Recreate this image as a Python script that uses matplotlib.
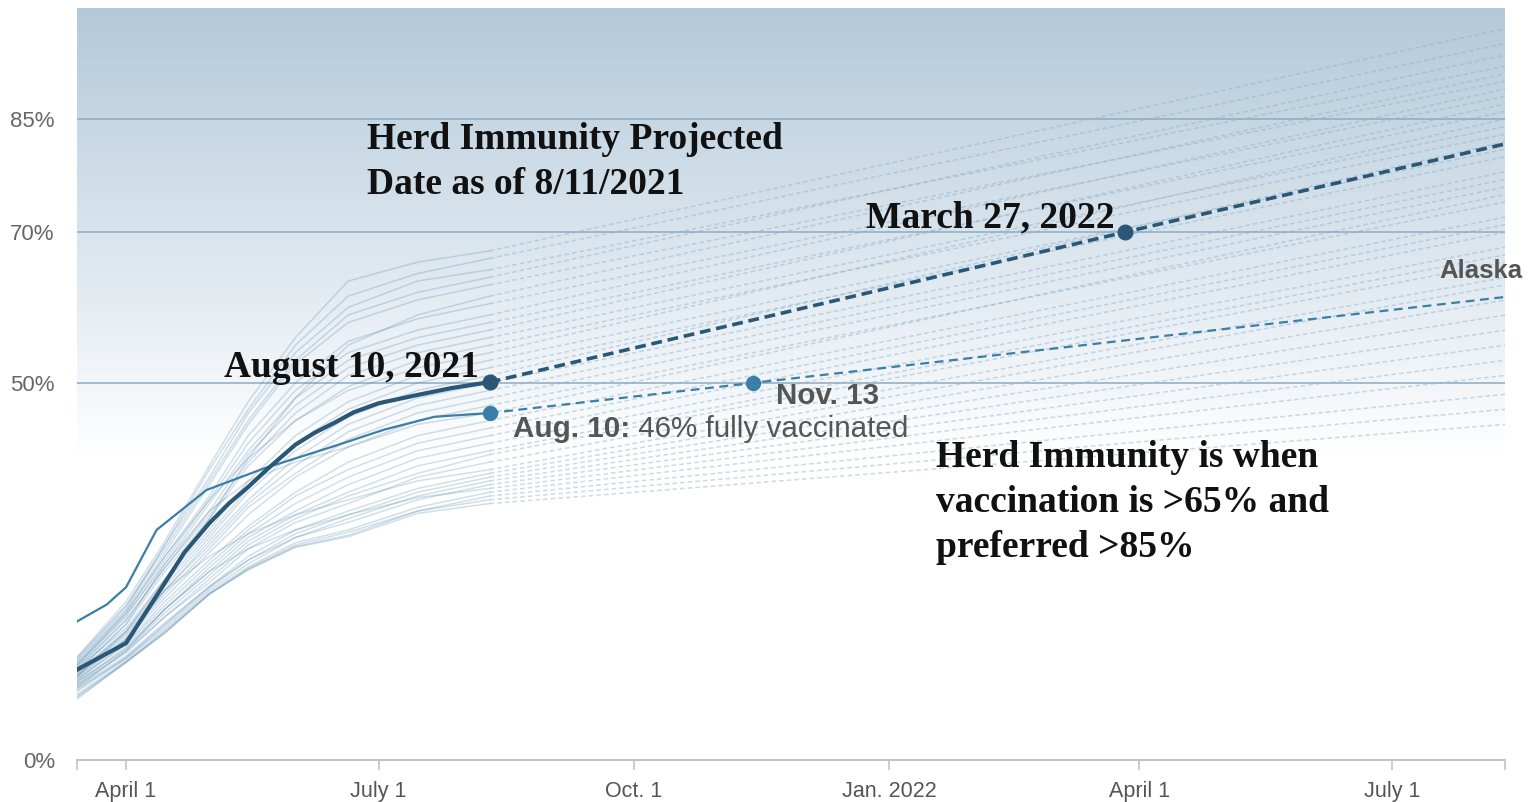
import datetime as dt
import numpy as np
import matplotlib
matplotlib.use('Agg')
import matplotlib.pyplot as plt
import matplotlib.dates as mdates
from matplotlib.colors import LinearSegmentedColormap
from matplotlib.ticker import FixedLocator

D = dt.datetime

# ---- data ----
X_START = D(2021, 3, 14, 8)
X_END = D(2022, 8, 10, 17)
PROJ_END = D(2022, 8, 11)

STATE_DATES = [D(2021, 3, 14), D(2021, 4, 1), D(2021, 4, 15), D(2021, 5, 1), D(2021, 5, 15),
               D(2021, 6, 1), D(2021, 6, 20), D(2021, 7, 15), D(2021, 8, 10)]
STATE_VALUES = [
    [13.5, 21, 29, 39, 47.5, 56, 63.5, 66, 67.5],
    [13.4, 20.5, 28.5, 38.5, 46.5, 55, 61.5, 64.5, 66.5],
    [13, 20, 28.5, 37.5, 46, 54, 60, 63.5, 65],
    [13.2, 20.4, 28, 37, 45, 53, 59, 62, 64],
    [12.8, 19.8, 27.5, 36.5, 44.5, 52.5, 58, 61, 63],
    [11, 17, 24, 32, 40, 48, 55, 59, 61.5],
    [12.6, 19.5, 27, 35, 43, 50, 55.5, 58.5, 60.5],
    [12.3, 19, 26.5, 34.5, 42, 49, 54, 57, 59],
    [12.4, 19.2, 26, 34, 41, 48, 53, 56, 58],
    [12, 18.5, 25.5, 33, 40.5, 47, 52, 55, 57],
    [12.1, 18.6, 25.5, 32.5, 39.5, 46, 51, 54, 56],
    [11.8, 18, 25, 32, 39, 45, 49.5, 53, 55],
    [12.5, 19.5, 27, 34.5, 40, 45, 49, 52, 54],
    [11.9, 17.5, 24, 30.5, 37, 43, 47.5, 51, 53],
    [11.3, 17.2, 23.5, 30, 36, 42, 46.5, 50, 52],
    [11.5, 17, 23, 29.5, 35.5, 41, 45.5, 49, 51],
    [11, 16.8, 22.5, 29, 34.5, 40, 44.5, 48, 50],
    [11.2, 16.5, 22.5, 28.5, 34, 39, 43.5, 47, 49],
    [10.8, 16.2, 22, 28, 33.5, 38, 42.5, 46, 48],
    [11, 16, 21.5, 27.5, 32.5, 37.5, 41.5, 45, 47],
    [11.5, 18, 26, 33, 37, 39.5, 41.5, 44.5, 46],
    [10.4, 15.5, 21, 26.5, 31, 35.5, 39.5, 43, 45],
    [10.7, 15.3, 20.5, 26, 30.5, 35, 38.5, 42, 44],
    [10.2, 15, 20, 25.5, 30, 34, 37.5, 41, 43],
    [10, 14.8, 20, 25, 29.5, 33, 36.5, 40, 42],
    [10.3, 14.6, 19.5, 24.5, 29, 32.5, 35.5, 39, 41],
    [9.8, 14.4, 19, 24, 28.5, 32, 35, 38, 40.5],
    [9.9, 14.2, 19, 23.5, 28, 31.5, 34, 37.5, 39.5],
    [10.5, 16, 22.5, 27, 30, 32.5, 34.5, 37, 38.5],
    [9.6, 13.8, 18.2, 23, 27, 30.5, 33, 36, 38],
    [9.2, 13.6, 18, 23, 26.5, 30, 32.5, 35.5, 37.5],
    [9.4, 13.5, 17.8, 22.8, 26.5, 29.5, 32, 35, 37],
    [9, 13.4, 17.5, 22.5, 26, 29.5, 31.5, 34.5, 36.5],
    [9.5, 14.5, 20, 25, 28, 30.5, 32.5, 34.8, 36],
    [8.6, 13.1, 17.2, 22.2, 25.6, 28.8, 30.5, 33.5, 35.5],
    [8.4, 13, 17, 22, 25.4, 28.5, 30.2, 33, 35],
    [8.2, 12.9, 16.9, 22, 25.3, 28.3, 29.8, 33, 34.5],
    [8, 13, 16.8, 22, 25.2, 28.2, 29.6, 32.7, 34],
]
STATE_END = [97, 95, 92, 93.5, 90, 91, 88, 89, 86, 87, 84, 83, 85, 81, 80, 82, 78, 77, 76,
             74, 75, 72, 71, 70, 68, 67, 66, 64, 63, 61, 59, 57, 55, 53, 51, 48.5, 46.5, 44.5]

US_DATES = [D(2021, 3, 14), D(2021, 3, 22), D(2021, 4, 1), D(2021, 4, 8), D(2021, 4, 15),
            D(2021, 4, 22), D(2021, 5, 1), D(2021, 5, 8), D(2021, 5, 15), D(2021, 5, 22),
            D(2021, 6, 1), D(2021, 6, 8), D(2021, 6, 15), D(2021, 6, 22), D(2021, 7, 1),
            D(2021, 7, 15), D(2021, 7, 27), D(2021, 8, 10)]
US_VALUES = [11.9, 13.5, 15.5, 19.5, 23.5, 27.5, 31.4, 34.0, 36.2, 38.6,
             41.8, 43.4, 44.7, 46.1, 47.3, 48.4, 49.3, 50.1]
US_PROJ_DATES = [D(2021, 8, 10), D(2022, 3, 27), PROJ_END]
US_PROJ_VALUES = [50.1, 70.0, 81.7]

AK_DATES = [D(2021, 3, 14), D(2021, 3, 25), D(2021, 4, 1), D(2021, 4, 12), D(2021, 4, 30),
            D(2021, 5, 21), D(2021, 6, 14), D(2021, 7, 3), D(2021, 7, 21), D(2021, 8, 10)]
AK_VALUES = [18.3, 20.6, 22.9, 30.5, 35.8, 38.7, 41.5, 43.8, 45.5, 46.0]
AK_PROJ_DATES = [D(2021, 8, 10), D(2021, 11, 13), PROJ_END]
AK_PROJ_VALUES = [46.0, 50.0, 61.4]

Y_TICKS = [0, 50, 70, 85]
Y_LABELS = ['0%', '50%', '70%', '85%']
X_TICKS = [D(2021, 4, 1), D(2021, 7, 1), D(2021, 10, 1), D(2022, 1, 1), D(2022, 4, 1), D(2022, 7, 1)]
X_LABELS = ['April 1', 'July 1', 'Oct. 1', 'Jan. 2022', 'April 1', 'July 1']

# ---- colors / fonts ----
US_COLOR = '#2b5776'
AK_COLOR = '#3b7ea8'
STATE_COLOR = '#3f7aa6'
STATE_DASH = '#8aaecb'
GRID_COLOR = '#8eabc3'
GRAY = '#555555'
SERIF = 'Liberation Serif'
SANS = 'Liberation Sans'

fig = plt.figure(figsize=(15.36, 8.02), dpi=100)
ax = fig.add_axes([77 / 1536, 1 - 760 / 802, 1428 / 1536, 752 / 802])
ax.set_xlim(X_START, X_END)
ax.set_ylim(0, 99.7)

# background gradient
cmap = LinearSegmentedColormap.from_list('bg', ['#ffffff', '#b3c9da'])
grad = np.linspace(0, 1, 256).reshape(-1, 1)
ax.imshow(grad, extent=[mdates.date2num(X_START), mdates.date2num(X_END), 40, 99.7],
          origin='lower', aspect='auto', cmap=cmap, zorder=0)

# state lines
for vals, end in zip(STATE_VALUES, STATE_END):
    ax.plot(STATE_DATES, vals, color=STATE_COLOR, alpha=0.24, lw=1.1, zorder=2)
    ax.plot([STATE_DATES[-1], PROJ_END], [vals[-1], end], color=STATE_DASH,
            alpha=0.45, lw=1.1, dashes=(3, 2), zorder=2)

# Alaska
ax.plot(AK_DATES, AK_VALUES, color=AK_COLOR, lw=1.6, zorder=4)
ax.plot(AK_PROJ_DATES, AK_PROJ_VALUES, color=AK_COLOR, lw=1.6, dashes=(4, 2.5), zorder=4)
ax.plot(AK_PROJ_DATES[:2], AK_PROJ_VALUES[:2], 'o', color=AK_COLOR, ms=10, zorder=5)

# United States
ax.plot(US_DATES, US_VALUES, color=US_COLOR, lw=3, zorder=6)
ax.plot(US_PROJ_DATES, US_PROJ_VALUES, color=US_COLOR, lw=2.6, dashes=(3, 1.6), zorder=6)
ax.plot(US_PROJ_DATES[:2], US_PROJ_VALUES[:2], 'o', color=US_COLOR, ms=10.5, zorder=7)

# axes styling
for s in ['top', 'right', 'left']:
    ax.spines[s].set_visible(False)
ax.spines['bottom'].set_color('#c4c4c4')
ax.spines['bottom'].set_linewidth(1.5)
ax.spines['bottom'].set_zorder(8)

ax.set_yticks(Y_TICKS)
ax.set_yticklabels(Y_LABELS, fontsize=16, color='#666666', family=SANS)
ax.tick_params(axis='y', length=0, pad=16)
ax.yaxis.grid(True, color=GRID_COLOR, lw=1.1)
ax.set_axisbelow(True)

ax.set_xticks(X_TICKS)
ax.set_xticklabels(X_LABELS, fontsize=15.5, color=GRAY, family=SANS)
ax.xaxis.set_minor_locator(FixedLocator([mdates.date2num(X_START), mdates.date2num(X_END)]))
ax.tick_params(axis='x', which='both', length=7, width=1.2, color='#c4c4c4', pad=8)

# annotations
serif_kw = dict(fontsize=27, fontweight='bold', family=SERIF, color='#111111')
LINE_STEP = 32.4  # points between baselines


def multiline(x, y, lines):
    for k, line in enumerate(lines):
        ax.annotate(line, xy=(x, y), xytext=(0, -k * LINE_STEP), textcoords='offset points',
                    ha='left', va='baseline', zorder=9, **serif_kw)


multiline(D(2021, 6, 26, 20), 81.0, ['Herd Immunity Projected', 'Date as of 8/11/2021'])
multiline(D(2022, 1, 17, 18), 38.9, ['Herd Immunity is when', 'vaccination is >65% and',
                                     'preferred >85%'])
ax.annotate('United States', xy=(US_PROJ_DATES[-1], US_PROJ_VALUES[-1]), xytext=(-19, 6),
            textcoords='offset points', ha='right', va='baseline', zorder=9, **serif_kw)
ax.annotate('March 27, 2022', xy=(US_PROJ_DATES[1], US_PROJ_VALUES[1]), xytext=(-8, 3.6),
            textcoords='offset points', ha='right', va='baseline', zorder=9, **serif_kw)
ax.annotate('August 10, 2021', xy=(US_PROJ_DATES[0], US_PROJ_VALUES[0]), xytext=(-8, 3.6),
            textcoords='offset points', ha='right', va='baseline', zorder=9, **serif_kw)

sans_kw = dict(fontsize=21.3, family=SANS, color=GRAY)
ax.annotate('Nov. 13', xy=(AK_PROJ_DATES[1], AK_PROJ_VALUES[1]), xytext=(16, -15),
            textcoords='offset points', ha='left', va='baseline', fontweight='bold',
            zorder=9, **sans_kw)
bold_part = ax.annotate('Aug. 10:', xy=(AK_PROJ_DATES[0], AK_PROJ_VALUES[0]), xytext=(17, -17),
                        textcoords='offset points', ha='left', va='baseline',
                        fontweight='bold', zorder=9, **sans_kw)
ax.annotate(' 46% fully vaccinated', xy=(1, 0), xycoords=bold_part, ha='left', va='bottom',
            zorder=9, **sans_kw)
ax.annotate('Alaska', xy=(AK_PROJ_DATES[-1], AK_PROJ_VALUES[-1]), xytext=(12, 13.5),
            textcoords='offset points', ha='right', va='baseline', fontweight='bold',
            fontsize=18.5, family=SANS, color=GRAY, annotation_clip=False, zorder=9)

fig.savefig('out.png', dpi=100)
